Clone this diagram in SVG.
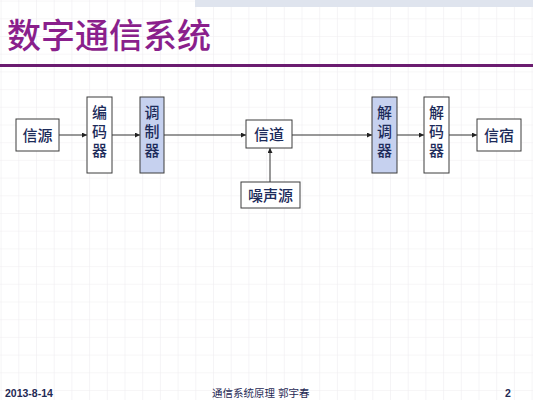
<svg xmlns="http://www.w3.org/2000/svg" width="533" height="400" viewBox="0 0 533 400">
<defs>
<pattern id="grid" x="0.6" y="0.6" width="17.7" height="17.7" patternUnits="userSpaceOnUse">
<path d="M0 0H17.7M0 0V17.7" fill="none" stroke="#efedf0" stroke-width="1.2"/>
</pattern>
<marker id="ah" viewBox="0 0 6 6" refX="6" refY="3" markerWidth="5" markerHeight="5" orient="auto" markerUnits="userSpaceOnUse">
<path d="M0 0L6 3L0 6z" fill="#222"/>
</marker>
<style>
.box{fill:#fff;stroke:#3c3c3c;stroke-width:1}
.blue{fill:#c6d1ef}
.t{font-family:"Noto Sans CJK SC","Liberation Sans",sans-serif;font-size:15px;font-weight:500;fill:#1c2b5a;text-anchor:middle}
.c{stroke:#333;stroke-width:1;fill:none;marker-end:url(#ah)}
.f{font-family:"Liberation Sans","Noto Sans CJK SC",sans-serif;font-size:10.5px;fill:#1f2a55}
</style>
</defs>
<rect width="533" height="400" fill="#fff"/>
<rect width="533" height="400" fill="url(#grid)"/>
<rect x="195" y="0" width="338" height="7" fill="#dfe4ee"/>
<text x="7" y="48" font-family="'Noto Sans CJK SC',sans-serif" font-size="34" fill="#8a1f8c" font-weight="500">数字通信系统</text>
<rect x="0" y="64" width="533" height="3" fill="#6b1c70"/>

<g id="connectors">
<line class="c" x1="59" y1="135" x2="87" y2="135"/>
<line class="c" x1="112" y1="135" x2="140" y2="135"/>
<line class="c" x1="164" y1="135" x2="246" y2="135"/>
<line class="c" x1="292" y1="135" x2="372" y2="135"/>
<line class="c" x1="397" y1="135" x2="424" y2="135"/>
<line class="c" x1="449" y1="135" x2="477" y2="135"/>
<line class="c" x1="270" y1="182" x2="270" y2="148"/>
</g>

<g id="source"><rect class="box" x="16" y="119" width="43" height="32"/><text class="t" x="37.5" y="140.5">信源</text></g>
<g id="encoder"><rect class="box" x="87" y="97" width="25" height="76"/><text class="t" x="99.5" y="117.5">编</text><text class="t" x="99.5" y="136.5">码</text><text class="t" x="99.5" y="155.5">器</text></g>
<g id="modulator"><rect class="box blue" x="140" y="97" width="24" height="76"/><text class="t" x="152" y="117.5">调</text><text class="t" x="152" y="136.5">制</text><text class="t" x="152" y="155.5">器</text></g>
<g id="channel"><rect class="box" x="246" y="120" width="46" height="28"/><text class="t" x="269" y="139.5">信道</text></g>
<g id="noise"><rect class="box" x="241" y="182" width="59" height="26"/><text class="t" x="270.5" y="200.5">噪声源</text></g>
<g id="demodulator"><rect class="box blue" x="372" y="97" width="25" height="76"/><text class="t" x="384.5" y="117.5">解</text><text class="t" x="384.5" y="136.5">调</text><text class="t" x="384.5" y="155.5">器</text></g>
<g id="decoder"><rect class="box" x="424" y="97" width="25" height="76"/><text class="t" x="436.5" y="117.5">解</text><text class="t" x="436.5" y="136.5">码</text><text class="t" x="436.5" y="155.5">器</text></g>
<g id="sink"><rect class="box" x="477" y="119" width="44" height="32"/><text class="t" x="499" y="140.5">信宿</text></g>

<text class="f" x="5" y="397" font-weight="bold">2013-8-14</text>
<text class="f" x="212" y="397" font-size="10">通信系统原理</text>
<text class="f" x="278" y="397" font-size="10">郭宇春</text>
<text class="f" x="505" y="397" font-weight="bold">2</text>
</svg>
